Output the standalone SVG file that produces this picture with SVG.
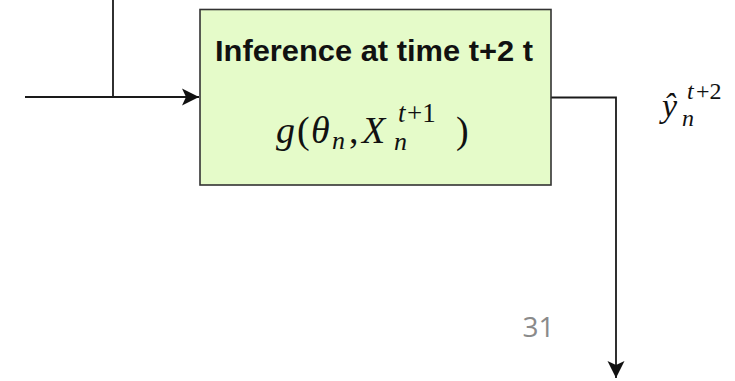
<svg xmlns="http://www.w3.org/2000/svg" width="735" height="381" viewBox="0 0 735 381">
<style>
.wire{fill:none;stroke:#1a1a1a;stroke-width:1.8}
.box{fill:#e5fbc9;stroke:#333;stroke-width:1.6}
.title{font-family:"Liberation Sans",Arial,sans-serif;font-weight:bold;font-size:30px;fill:#111}
.math{font-family:"Liberation Serif","Times New Roman",serif;fill:#111}
.it{font-style:italic}
.pg{font-family:"Open Sans","Liberation Sans",sans-serif;font-size:28px;fill:#8a8a8a}
</style>
<defs>
<marker id="arr" markerUnits="userSpaceOnUse" markerWidth="20" markerHeight="20" viewBox="-17 -10 18 20" refX="0" refY="0" orient="auto">
<path d="M-17,-8.5 L0,0 L-17,8.5 L-13,0 Z" fill="#111"/>
</marker>
</defs>
<rect width="735" height="381" fill="#fff"/>
<g id="connectors">
<path class="wire" d="M113,0 V97"/>
<path class="wire" d="M25,97 H199" marker-end="url(#arr)"/>
<path class="wire" d="M551,97.5 H616 V378" marker-end="url(#arr)"/>
</g>
<g id="inference">
<rect class="box" x="200" y="9.5" width="351" height="175.5"/>
<text class="title" x="215" y="61" textLength="318" lengthAdjust="spacingAndGlyphs">Inference at time t+2 t</text>
<text class="math" font-size="38" y="143"><tspan class="it" x="276">g</tspan><tspan x="297">(</tspan><tspan class="it" x="311">θ</tspan><tspan class="it" x="332" y="149" font-size="26">n</tspan><tspan x="349" y="143">,</tspan><tspan class="it" x="362">X</tspan><tspan class="it" x="398" y="122" font-size="27">t</tspan><tspan x="407" y="122" font-size="27">+1</tspan><tspan class="it" x="394" y="150" font-size="26">n</tspan><tspan x="456" y="143">)</tspan></text>
</g>
<g id="output-label">
<text class="math" font-size="34" y="117"><tspan class="it" x="662">ŷ</tspan><tspan class="it" x="682" y="126" font-size="24">n</tspan><tspan class="it" x="687" y="99" font-size="24">t</tspan><tspan x="696" y="99" font-size="24">+2</tspan></text>
</g>
<text class="pg" x="538.5" y="337" text-anchor="middle">31</text>
</svg>
